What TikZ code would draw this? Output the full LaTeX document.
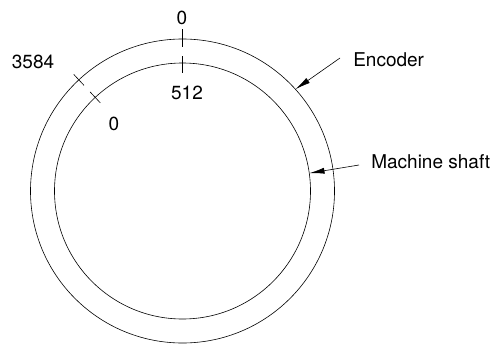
\documentclass[tikz,border=0pt]{standalone}
\usepackage{fontspec}
\setmainfont{TeX Gyre Heros}
\usetikzlibrary{positioning,arrows.meta}

\begin{document}
\begin{tikzpicture}[x=1pt,y=-1pt,line width=0.6pt,
ring/.style={circle,draw,inner sep=0pt},
lbl/.style={font=\fontsize{19}{20}\selectfont,inner sep=0pt},
pointer/.style={-{Latex[length=15pt,width=6pt]}}]
 \useasboundingbox (0,0) rectangle (495,343);
 \node[ring,minimum size=304pt] (encoder) at (182.5,191) {};
 \node[ring,minimum size=256pt] (shaft) at (182.5,191) {};
 % zero marks (y axis points down, so angles are negative)
 \draw (encoder.center) ++ (-90:162) -- ++ (-90:-18);
 \draw (encoder.center) ++ (-90:135) -- ++ (-90:-17);
 \draw (encoder.center) ++ (-133:159.5) -- ++ (-133:-15);
 \draw (encoder.center) ++ (-133:135.5) -- ++ (-133:-15);
 \node[lbl] (top0) at (182,18) {0};
 \node[lbl] (pos3584) at (33,62) {3584};
 \node[lbl] (pos512) at (187,93) {512};
 \node[lbl] (low0) at (114,124) {0};
 \node[lbl,anchor=west] (enclbl) at (353,60) {Encoder};
 \node[lbl,anchor=west] (shaftlbl) at (371,162) {Machine shaft};
 \coordinate[left=13pt of enclbl.west,yshift=2pt] (encfrom);
 \coordinate[left=12pt of shaftlbl.west,yshift=-3pt] (shaftfrom);
 \draw[pointer] (encfrom) -- (encoder.42);
 \draw[pointer] (shaftfrom) -- (shaft.8.5);
\end{tikzpicture}
\end{document}
